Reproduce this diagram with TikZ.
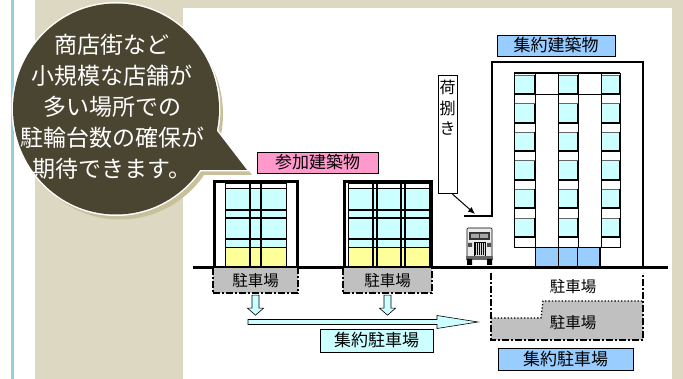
\documentclass[tikz,border=0pt]{standalone}
\usepackage{fontspec}
\newfontfamily\jp{Noto Sans CJK JP}
\usetikzlibrary{arrows.meta,positioning}

\definecolor{beige}{HTML}{DDD8C2}
\definecolor{bubble}{HTML}{4A4530}
\definecolor{bubshadow}{HTML}{C8BF9B}
\definecolor{sideline}{HTML}{96D0DC}
\definecolor{pinkbox}{HTML}{FF99CC}
\definecolor{paleblue}{HTML}{CCFFFF}
\definecolor{skyblue}{HTML}{99CCFF}
\definecolor{paleyellow}{HTML}{FFFF99}
\definecolor{parkgray}{HTML}{C0C0C0}

\begin{document}
\begin{tikzpicture}[x=1pt, y=-1pt,
    lbl/.style={font=\jp\fontsize{15.5}{15.5}\selectfont, inner sep=0pt},
    namebox/.style={draw, line width=0.8pt, inner sep=0pt, minimum height=21pt, font=\jp\fontsize{17}{17}\selectfont},
    parkbox/.style={lbl, fill=parkgray, minimum height=25pt},
    parkedge/.style={line width=1.5pt, dash pattern=on 7pt off 2pt on 2pt off 2pt},
    blockarrow/.style={draw, fill=paleblue, line width=0.6pt, line join=miter},
    bldframe/.style={line width=3pt},
    arrow/.style={-{Latex[length=7pt,width=6pt]}, line width=1pt},
    bubbletext/.style={font=\jp\fontsize{23}{31}\selectfont, text=white, align=center, inner sep=0pt}
]
\useasboundingbox (0,0) rectangle (683,379);

% page background
\fill[white] (0,0) rectangle (683,379);
\fill[sideline] (10.5,0) rectangle (14,379);
\fill[beige] (35,0) rectangle (683,379);
\fill[white] (183,8) rectangle (672,379);

% participating buildings
\fill[white] (214,181) rectangle (298,268);
\fill[paleblue] (225,188) rectangle (286,247);
\fill[paleyellow] (225,247) rectangle (286,268);
\draw[line width=0.6pt] (225,183) rectangle (286,268);
\foreach \y/\w in {188/0.6, 210/1.2, 218/1.6, 239/1.6, 247/0.8}
  \draw[line width=\w pt] (225,\y) -- (286,\y);
\foreach \x in {250,261}
  \draw[line width=1.6pt] (\x,183) -- (\x,268);
\draw[bldframe] (214.5,268) -- (214.5,181.5) -- (297.5,181.5) -- (297.5,268);

\fill[white] (344,181) rectangle (432,268);
\fill[paleblue] (348,188) rectangle (429,247);
\fill[paleyellow] (348,247) rectangle (429,268);
\draw[line width=0.6pt] (348,183) rectangle (429,268);
\foreach \y/\w in {188/0.6, 210/1.2, 218/1.6, 239/1.6, 247/0.8}
  \draw[line width=\w pt] (348,\y) -- (429,\y);
\foreach \x in {373,377,401,405}
  \draw[line width=1.2pt] (\x,183) -- (\x,268);
\draw[bldframe] (344.5,268) -- (344.5,181.5) -- (431.5,181.5) -- (431.5,268);

\node[namebox, fill=pinkbox, minimum width=121pt] (joinlbl) at (317.5,162.5) {参加建築物};

% main building
\draw[line width=2.5pt] (464,216) -- (492,216) -- (492,62) -- (643,62) -- (643,268);
\foreach \xa/\xb in {514/535, 558/578, 601/620} {
  \foreach \i in {0,...,5} {
    \pgfmathsetmacro\ya{75+28.6*\i}
    \filldraw[fill=paleblue, draw=black!60, line width=0.6pt] (\xa,\ya) rectangle (\xb,\ya+19);
    \draw[line width=2pt] (\xb,\ya) -- (\xb,\ya+19) -- (\xa,\ya+19);
  }
  \draw[line width=0.8pt] (\xa,73) rectangle (\xb,247);
}
\draw[line width=0.8pt] (514,94) -- (620,94);
\draw[line width=1.6pt] (514,73) -- (620,73);
\filldraw[fill=skyblue, draw=black, line width=0.8pt] (535,247) rectangle (600,266);
\draw[line width=0.8pt] (558,247) -- (558,266) (577,247) -- (577,266);
\draw[line width=2pt] (600,247) -- (600,266);

\node[namebox, fill=skyblue, minimum width=118pt] (mainlbl) at (556,45.5) {集約建築物};

% truck at the loading bay
\filldraw[fill=black!8, draw=black, line width=0.6pt, rounded corners=1pt] (467,228) rectangle (492,259);
\fill[black!80] (469,232) rectangle (490,240);
\fill[black!35] (471,234) rectangle (479,238) (480,234) rectangle (488,238);
\filldraw[fill=black!15, draw=black, line width=0.5pt] (474,242) rectangle (485,256);
\foreach \x in {475.5,477.5,...,483.5}
  \draw[line width=0.4pt] (\x,243) -- (\x,255);
\fill[black!70] (468,243) rectangle (472,247) (487,243) rectangle (491,247);
\fill[black!60] (466,256) rectangle (493,260);
\fill[black] (467,259) rectangle (472,265) (487,259) rectangle (492,265);

% unloading note
\node[draw, fill=white, line width=0.7pt, anchor=north, minimum width=19pt, inner xsep=0pt, inner ysep=5pt,
      text depth=54pt, align=center, font=\jp\fontsize{16}{20.5}\selectfont] (nimo) at (447.5,75) {荷\\捌\\き};
\coordinate (bay) at (475,214);
\draw[arrow] ([xshift=5pt]nimo.south) -- (bay);

% ground
\draw[line width=3pt] (193,268) -- (668,268);

% parking under the participating buildings
\node[parkbox, minimum width=85pt] (park1) at (255.5,280.5) {駐車場};
\node[parkbox, minimum width=89pt] (park2) at (387.5,280.5) {駐車場};
\foreach \p in {park1,park2} {
  \draw[parkedge] (\p.north west) -- (\p.south west) -- (\p.south east) -- (\p.north east);
  \filldraw[blockarrow] ([xshift=-3.5pt,yshift=-2pt]\p.south) -- ++(0,13) -- ++(-4.5,0) -- ++(8,7)
    -- ++(8,-7) -- ++(-4.5,0) -- ++(0,-13) -- cycle;
}

% towards the shared parking
\coordinate (gather) at (248,322);
\filldraw[blockarrow] ([yshift=2.5pt]gather) -- ++(189,0) -- ++(0,-4) -- ++(41,6.5) -- ++(-41,6.5)
  -- ++(0,-4) -- ++(-189,0) -- cycle;

\node[namebox, fill=paleblue, minimum width=113pt, minimum height=23pt] (sharedlbl1) at (376.5,340.5) {集約駐車場};

% shared parking
\fill[parkgray] (491,318) -- (541,318) -- (543,301) -- (643,301) -- (643,340) -- (491,340) -- cycle;
\draw[dotted, line width=1.3pt] (491,318) -- (541,318) -- (543,301) -- (643,301);
\draw[parkedge] (491,273) -- (491,340) -- (643,340) -- (643,273);
\node[lbl] (upark) at (573,287) {駐車場};
\node[lbl] (lpark) at (573,323) {駐車場};

\node[namebox, fill=skyblue, minimum width=135pt, minimum height=22pt] (sharedlbl2) at (565.5,359) {集約駐車場};

% speech bubble
\fill[bubshadow] (120,114) ellipse [x radius=103, y radius=105.5];
\fill[bubshadow] (214,127) -- (252,175) -- (189,175) -- cycle;
\draw[white, line width=3pt] (116,109) ellipse [x radius=103, y radius=105.5];
\draw[white, line width=3pt] (210,122) -- (247,170) -- (185,170) -- cycle;
\fill[bubble] (116,109) ellipse [x radius=103, y radius=105.5];
\fill[bubble] (210,122) -- (247,170) -- (185,170) -- cycle;
\node[bubbletext] (msg) at (112,107) {商店街など\\小規模な店舗が\\多い場所での\\駐輪台数の確保が\\期待できます。};
\end{tikzpicture}
\end{document}
